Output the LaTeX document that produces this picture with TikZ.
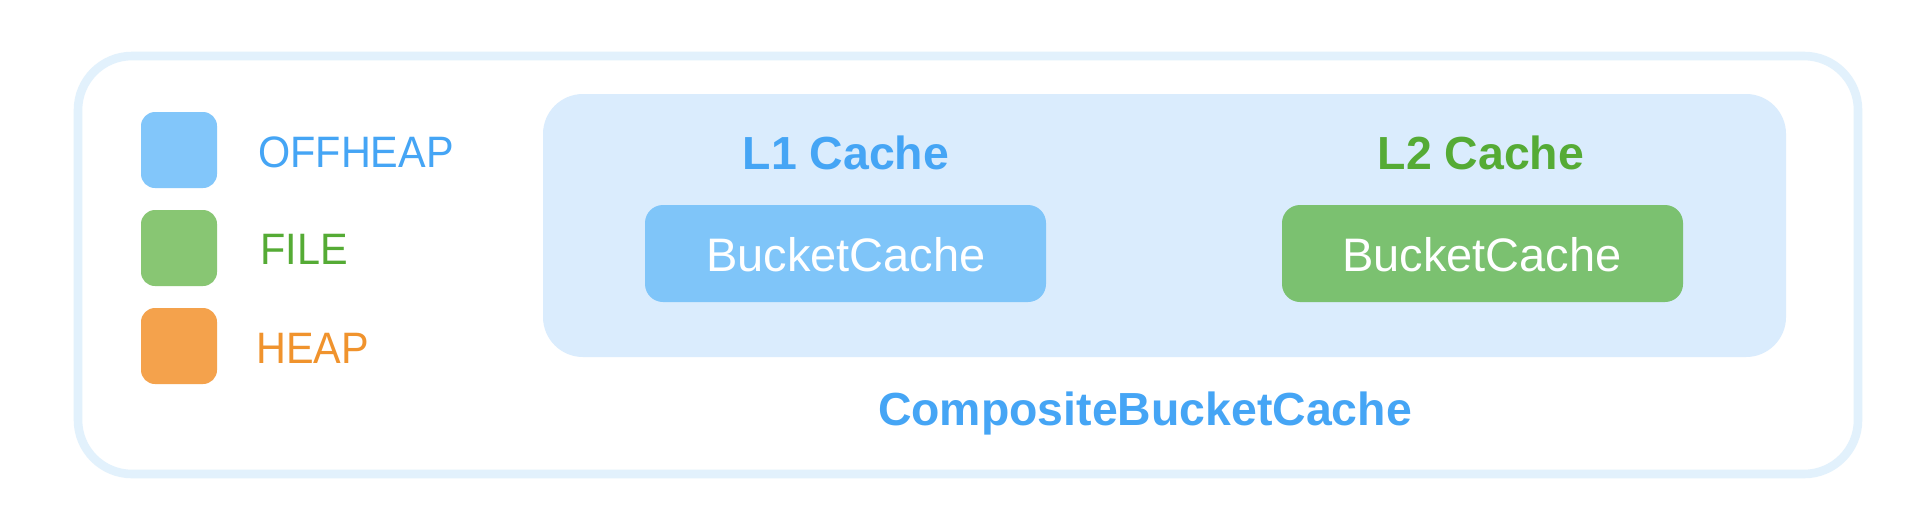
\documentclass[tikz,border=0pt]{standalone}
\usepackage{fontspec}
\setmainfont{Liberation Sans}
\definecolor{outerline}{HTML}{E2F1FC}
\definecolor{innerfill}{HTML}{DAECFD}
\definecolor{lonefill}{HTML}{7FC5F9}
\definecolor{ltwofill}{HTML}{7BC170}
\definecolor{legblue}{HTML}{82C6FA}
\definecolor{leggreen}{HTML}{88C673}
\definecolor{legorange}{HTML}{F4A24C}
\definecolor{txtblue}{HTML}{45A5F5}
\definecolor{txtgreen}{HTML}{55AB35}
\definecolor{txtorange}{HTML}{F0932D}
\newcommand{\legscale}[1]{\scalebox{0.94}[1]{#1}}
\tikzset{
  legsq/.style={rounded corners=7pt},
  legtxt/.style={anchor=base west,inner sep=0pt,font=\fontsize{22}{26}\selectfont},
  bcbox/.style={rounded corners=9pt},
  bctxt/.style={anchor=base,inner sep=0pt,text=white,font=\fontsize{23.5}{28}\selectfont},
  title/.style={anchor=base,font=\bfseries\fontsize{23.2}{28}\selectfont,inner sep=0pt},
}
\begin{document}
\begin{tikzpicture}[x=0.5pt,y=-0.5pt]
\useasboundingbox (0,0) rectangle (1920,531);
\fill[white] (0,0) rectangle (1920,531);
% outer box
\draw[outerline,line width=4.3pt,rounded corners=27pt] (78,56) rectangle (1858,474);
% inner box
\fill[innerfill,rounded corners=20pt] (543,94) rectangle (1786,357);
% BucketCache boxes
\fill[lonefill,bcbox] (645,205) rectangle (1046,302);
\node[bctxt] (l1bc) at (846,271) {BucketCache};
\fill[ltwofill,bcbox] (1282,205) rectangle (1683,302);
\node[bctxt] (l2bc) at (1482,271) {BucketCache};
% titles
\node[title,text=txtblue] (l1) at (846,169) {L1 Cache};
\node[title,text=txtgreen] (l2) at (1481,169) {L2 Cache};
\node[title,text=txtblue] (comp) at (1145,425) {CompositeBucketCache};
% legend
\fill[legblue,legsq] (141,112) rectangle (217,188);
\fill[leggreen,legsq] (141,210) rectangle (217,286);
\fill[legorange,legsq] (141,308) rectangle (217,384);
\node[legtxt,text=txtblue] (off) at (258,167) {\legscale{OFFHEAP}};
\node[legtxt,text=txtgreen] (file) at (260,264) {\legscale{FILE}};
\node[legtxt,text=txtorange] (heap) at (256,363) {\legscale{HEAP}};
\end{tikzpicture}
\end{document}
